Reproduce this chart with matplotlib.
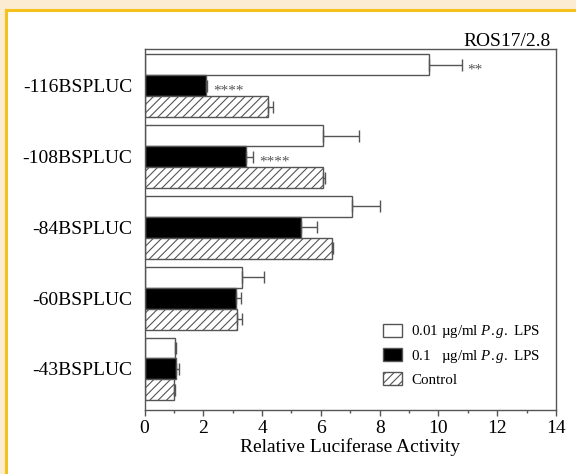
import numpy as np
import matplotlib
matplotlib.use("Agg")
import matplotlib.pyplot as plt
from matplotlib.patches import Rectangle
from matplotlib.lines import Line2D

plt.rcParams['font.family'] = ['Liberation Serif', 'DejaVu Serif']
plt.rcParams['mathtext.fontset'] = 'custom'
plt.rcParams['mathtext.rm'] = 'Liberation Serif'
plt.rcParams['mathtext.it'] = 'Liberation Serif:italic'
plt.rcParams['hatch.color'] = '#555555'
plt.rcParams['hatch.linewidth'] = 0.8

constructs = ['-116BSPLUC', '-108BSPLUC', '-84BSPLUC', '-60BSPLUC', '-43BSPLUC']
lps_low = [9.68, 6.07, 7.05, 3.31, 1.04]
lps_low_err = [1.11, 1.24, 0.96, 0.75, 0.03]
lps_high = [2.08, 3.45, 5.32, 3.11, 1.07]
lps_high_err = [0.05, 0.25, 0.54, 0.16, 0.11]
control = [4.19, 6.08, 6.39, 3.15, 1.01]
control_err = [0.17, 0.07, 0.03, 0.16, 0.04]
series_labels = ['0.01 µg/ml $\\mathit{P.g.}$ LPS', '0.1   µg/ml $\\mathit{P.g.}$ LPS', 'Control']
# significance marks: (series index, construct index, text)
marks = [(0, 0, '**'), (1, 0, '****'), (1, 1, '****')]

edge = '#555555'
fig = plt.figure(figsize=(5.76, 4.74), dpi=100)

# page frame
fig.patches.append(Rectangle((0, 0), 1, 1, transform=fig.transFigure,
                             facecolor='#fcecd2', edgecolor='none', zorder=-3))
fig.patches.append(Rectangle((7 / 576, 0), 1, 1 - 11 / 474, transform=fig.transFigure,
                             facecolor='white', edgecolor='none', zorder=-2))
fig.lines.append(Line2D([6 / 576, 6 / 576], [0, 1 - 10 / 474], transform=fig.transFigure,
                        color='#f5c11c', lw=2.2))
fig.lines.append(Line2D([6 / 576, 1], [1 - 10 / 474, 1 - 10 / 474], transform=fig.transFigure,
                        color='#f5c11c', lw=2.2))

ax = fig.add_axes([144.5 / 576, 64 / 474, 411.5 / 576, 361 / 474])

y = np.arange(len(constructs))
h = 0.296
series = [(lps_low, lps_low_err, 'white', ''),
          (lps_high, lps_high_err, 'black', ''),
          (control, control_err, 'white', '////')]
for k, (vals, errs, fc, hatch) in enumerate(series):
    pos = y + (k - 1) * h
    ax.barh(pos, vals, height=h, color=fc, edgecolor=edge, linewidth=1.0,
            hatch=hatch, label=series_labels[k])
    ax.errorbar(vals, pos, xerr=[np.zeros(len(vals)), errs], fmt='none',
                ecolor=edge, elinewidth=1.0, capsize=4, capthick=1.0)

for k, i, txt in marks:
    vals, errs = series[k][0], series[k][1]
    ax.text(vals[i] + errs[i] + 0.2, y[i] + (k - 1) * h + 0.07, txt, fontsize=11,
            color='#555555', va='center', ha='left')

ax.set_xlim(0, 14)
ax.set_ylim(4.58, -0.52)
ax.set_xticks(np.arange(0, 15, 2))
ax.set_xticks(np.arange(1, 14, 2), minor=True)
ax.set_yticks(y)
ax.set_yticklabels(constructs, fontsize=14)
ax.tick_params(axis='x', which='major', direction='out', length=4, width=1,
               color=edge, labelsize=14, pad=3)
ax.tick_params(axis='x', which='minor', direction='out', length=2.5, width=1, color=edge)
ax.tick_params(axis='y', length=0, pad=9)
for s in ax.spines.values():
    s.set_color(edge)
    s.set_linewidth(1.0)

ax.set_xlabel('Relative Luciferase Activity', fontsize=14, labelpad=1)
fig.text(551 / 576, 1 - 46 / 474, 'ROS17/2.8', fontsize=14, ha='right', va='baseline')

ax.legend(loc='upper left', bbox_to_anchor=(0.58, 0.24), frameon=False,
          fontsize=10.8, borderpad=0, borderaxespad=0, handlelength=1.25,
          handleheight=0.95, handletextpad=0.6, labelspacing=0.5)

fig.savefig('out.png', dpi=100)
